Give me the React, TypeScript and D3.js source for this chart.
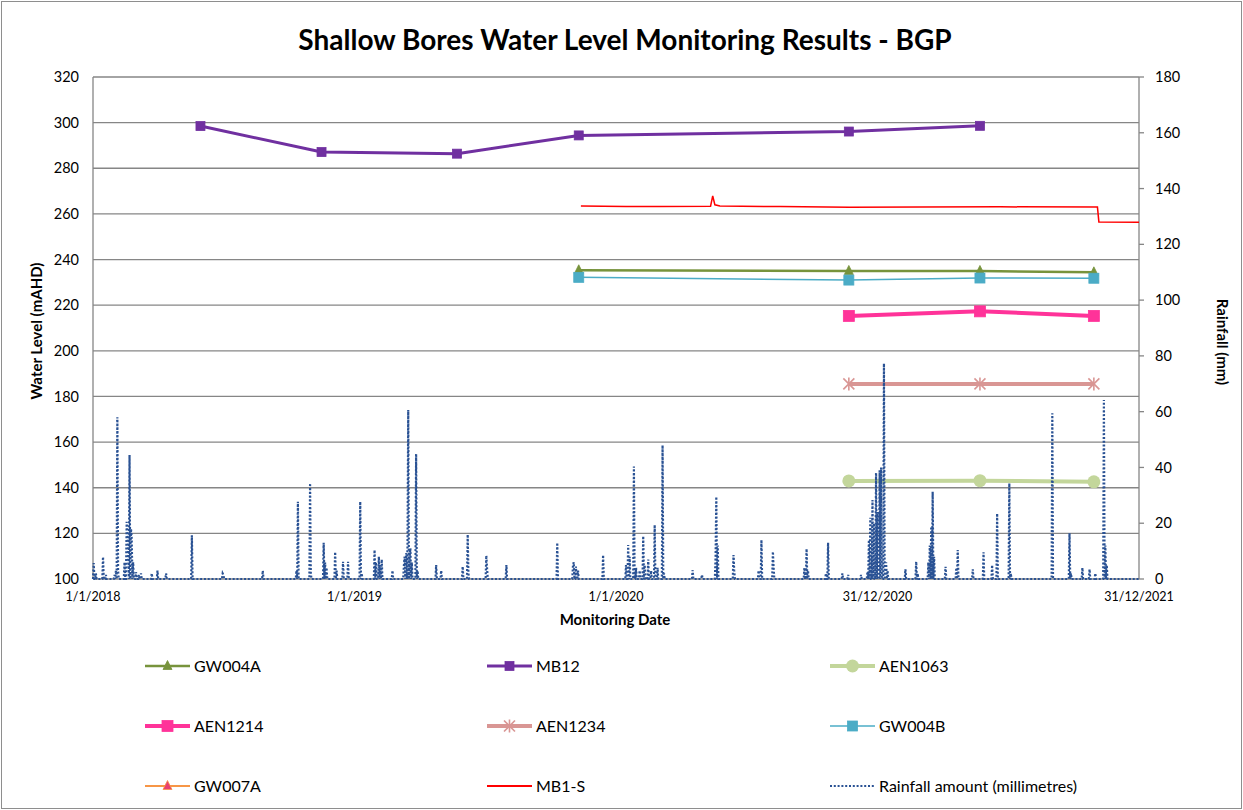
import React from 'react';
import * as d3 from 'd3';

// ---------------- DATA ----------------
const monitoringDates = ['2018-05-31', '2018-11-16', '2019-05-24', '2019-11-10', '2020-11-21', '2021-05-23', '2021-10-29'];
const gw004a: (number | null)[] = [null, null, null, 235.3, 235.0, 235.0, 234.4];
const mb12: (number | null)[] = [298.5, 287.1, 286.4, 294.4, 296.1, 298.6, null];
const aen1063: (number | null)[] = [null, null, null, null, 143.0, 143.1, 142.6];
const aen1214: (number | null)[] = [null, null, null, null, 215.3, 217.3, 215.3];
const aen1234: (number | null)[] = [null, null, null, null, 185.5, 185.5, 185.5];
const gw004b: (number | null)[] = [null, null, null, 232.2, 231.0, 231.9, 231.8];
const gw007a: (number | null)[] = [null, null, null, null, null, null, null];

const mb1sDates = ['2019-11-13', '2020-01-15', '2020-03-01', '2020-05-12', '2020-05-15', '2020-05-18', '2020-05-25', '2020-08-17', '2020-11-22', '2021-02-28', '2021-06-20', '2021-11-03', '2021-11-05', '2021-12-31'];
const mb1sLevels = [263.5, 263.2, 263.3, 263.4, 267.9, 264.0, 263.5, 263.2, 262.9, 263.0, 263.1, 263.0, 256.5, 256.3];

// rainfall events (days not listed recorded 0 mm)
const rainDates = [
  '2018-01-02', '2018-01-05', '2018-01-15', '2018-01-19', '2018-01-31', '2018-02-02', '2018-02-04', '2018-02-05', '2018-02-14', '2018-02-17', '2018-02-18', '2018-02-19', '2018-02-21', '2018-02-23', '2018-02-24', '2018-02-26', '2018-03-02', '2018-03-06', '2018-03-09', '2018-03-24', '2018-04-01', '2018-04-13', '2018-05-19', '2018-07-01', '2018-07-02', '2018-08-26', '2018-10-12', '2018-10-14', '2018-10-31', '2018-11-01', '2018-11-19', '2018-11-21', '2018-11-23', '2018-12-05', '2018-12-07', '2018-12-16', '2018-12-23',
  '2019-01-09', '2019-01-11', '2019-01-29', '2019-01-31', '2019-02-04', '2019-02-06', '2019-02-08', '2019-02-23', '2019-03-11', '2019-03-12', '2019-03-14', '2019-03-16', '2019-03-17', '2019-03-19', '2019-03-20', '2019-03-22', '2019-03-28', '2019-03-30', '2019-04-25', '2019-05-02', '2019-06-01', '2019-06-08', '2019-06-09', '2019-07-04', '2019-07-05', '2019-08-01', '2019-10-11', '2019-11-02', '2019-11-03', '2019-11-06', '2019-11-09', '2019-12-14',
  '2020-01-15', '2020-01-18', '2020-01-20', '2020-01-26', '2020-01-29', '2020-02-03', '2020-02-08', '2020-02-10', '2020-02-15', '2020-02-19', '2020-02-24', '2020-02-28', '2020-03-06', '2020-03-08', '2020-04-17', '2020-04-30', '2020-05-19', '2020-05-20', '2020-05-22', '2020-06-13', '2020-06-14', '2020-07-18', '2020-07-22', '2020-08-07', '2020-08-08', '2020-09-20', '2020-09-23', '2020-09-25', '2020-10-20', '2020-10-23', '2020-11-12', '2020-11-20', '2020-12-08', '2020-12-17', '2020-12-19', '2020-12-21', '2020-12-24', '2020-12-26', '2020-12-29', '2020-12-31',
  '2021-01-03', '2021-01-05', '2021-01-09', '2021-01-12', '2021-01-14', '2021-02-08', '2021-02-23', '2021-02-25', '2021-03-12', '2021-03-14', '2021-03-16', '2021-03-18', '2021-03-20', '2021-04-05', '2021-04-20', '2021-04-22', '2021-05-13', '2021-05-28', '2021-06-09', '2021-06-16', '2021-07-03', '2021-07-05', '2021-09-01', '2021-09-25', '2021-09-27', '2021-10-13', '2021-10-23', '2021-10-31', '2021-11-12', '2021-11-14', '2021-11-16',
];
const rainMm = [
  5.7, 2, 7.9, 1.5, 1.5, 3, 58, 3, 6, 20.5, 16, 12, 44.5, 18, 15, 6, 2.5, 1.5, 2, 2, 3, 2, 15.7, 2, 1.5, 3, 3, 27.7, 34.3, 2, 13, 6, 4, 9.7, 3, 6.2, 6.2,
  27.7, 2, 10.4, 6, 8, 5, 7, 3, 5, 8, 9.3, 12, 60.6, 8, 11, 6, 44.8, 3, 5, 3, 4.5, 16, 2, 8.4, 4, 5, 13, 5, 6, 4.5, 3, 8.6,
  5, 12.2, 8, 40.3, 4, 3, 15.4, 5, 7, 3, 19.4, 4, 48, 2, 3.2, 1.5, 8, 29.5, 12, 8.6, 3, 3, 14, 9.8, 4, 4, 10.8, 3, 2, 13, 2, 1.5, 1.5, 2.5, 14, 22, 28.3, 20, 38, 24,
  39, 40, 77.3, 6, 3, 3.5, 6.2, 2, 6, 12, 18.8, 31.3, 8, 4.4, 4, 10.4, 3.5, 9.6, 5, 23.5, 34.3, 2, 59.4, 16.4, 2, 4, 3.5, 2, 64.2, 12, 5,
];

const leftTicks = [100, 120, 140, 160, 180, 200, 220, 240, 260, 280, 300, 320];
const rightTicks = [0, 20, 40, 60, 80, 100, 120, 140, 160, 180];
const xTickDates = ['2018-01-01', '2019-01-01', '2020-01-01', '2020-12-31', '2021-12-31'];
const xTickLabels = ['1/1/2018', '1/1/2019', '1/1/2020', '31/12/2020', '31/12/2021'];

// ---------------- LAYOUT ----------------
const W = 1243, H = 810;
const PL = 93, PR = 1139, PT = 77, PB = 579;
const FONT = 'Lato, "Open Sans", sans-serif';
const parse = (s: string) => new Date(s + 'T00:00:00Z');

const x = d3.scaleUtc().domain([parse('2018-01-01'), parse('2021-12-31')]).range([PL, PR]);
const yL = d3.scaleLinear().domain([100, 320]).range([PB, PT]);
const yR = d3.scaleLinear().domain([0, 180]).range([PB, PT]);

type Marker = 'triangle' | 'square' | 'circle' | 'star' | 'none';
interface Series { name: string; values: (number | null)[]; color: string; width: number; marker: Marker; size: number; fill?: string; }

const series: Series[] = [
  { name: 'GW004A', values: gw004a, color: '#77933C', width: 2.5, marker: 'triangle', size: 9 },
  { name: 'MB12', values: mb12, color: '#7030A0', width: 3, marker: 'square', size: 9 },
  { name: 'AEN1063', values: aen1063, color: '#C3D69B', width: 4, marker: 'circle', size: 13 },
  { name: 'AEN1214', values: aen1214, color: '#FF3399', width: 4, marker: 'square', size: 11 },
  { name: 'AEN1234', values: aen1234, color: '#D99694', width: 4, marker: 'star', size: 11 },
  { name: 'GW004B', values: gw004b, color: '#4BACC6', width: 1.5, marker: 'square', size: 10 },
  { name: 'GW007A', values: gw007a, color: '#F79646', width: 2, marker: 'triangle', size: 9, fill: '#E8416F' },
];

function MarkerShape({ type, cx, cy, size, color, fill }: { type: Marker; cx: number; cy: number; size: number; color: string; fill?: string }) {
  const h = size / 2;
  if (type === 'square') return <rect x={cx - h} y={cy - h} width={size} height={size} fill={fill || color} stroke={color} strokeWidth={0.8} />;
  if (type === 'circle') return <circle cx={cx} cy={cy} r={h} fill={fill || color} />;
  if (type === 'triangle') return <path d={`M${cx},${cy - h - 1}L${cx + h},${cy + h - 1}L${cx - h},${cy + h - 1}Z`} fill={fill || color} stroke={color} strokeWidth={0.8} />;
  if (type === 'star') return (
    <g stroke={color} strokeWidth={1.6}>
      <line x1={cx - h} y1={cy - h} x2={cx + h} y2={cy + h} />
      <line x1={cx - h} y1={cy + h} x2={cx + h} y2={cy - h} />
      <line x1={cx} y1={cy - h - 1} x2={cx} y2={cy + h + 1} />
    </g>
  );
  return null;
}

const RAIN_COLOR = '#2A5294';
const RAIN_DASH = '2 1.8';

export default function App() {
  // daily rainfall series
  const rainMap = new Map<string, number>();
  rainDates.forEach((d, i) => rainMap.set(d, rainMm[i]));
  const days = d3.utcDay.range(parse('2018-01-01'), d3.utcDay.offset(parse('2021-12-31'), 1));
  const rain = days.map(d => ({ d, v: rainMap.get(d.toISOString().slice(0, 10)) ?? 0 }));
  const rainLine = d3.line<{ d: Date; v: number }>().x(p => x(p.d)).y(p => yR(p.v))(rain) || '';

  const mDates = monitoringDates.map(parse);
  const lineGen = d3.line<{ d: Date; v: number | null }>().defined(p => p.v != null).x(p => x(p.d)).y(p => yL(p.v as number));

  const mb1s = mb1sDates.map((d, i) => ({ d: parse(d), v: mb1sLevels[i] }));
  const mb1sPath = d3.line<{ d: Date; v: number }>().x(p => x(p.d)).y(p => yL(p.v))(mb1s) || '';

  const legendItems: { name: string; render: (x0: number, y0: number) => React.ReactNode }[] = series.slice(0, 6).map(s => ({
    name: s.name,
    render: (x0: number, y0: number) => (
      <g>
        <line x1={x0} x2={x0 + 45} y1={y0} y2={y0} stroke={s.color} strokeWidth={s.width} />
        <MarkerShape type={s.marker} cx={x0 + 22.5} cy={y0} size={s.size} color={s.color} fill={s.fill} />
      </g>
    ),
  }));
  const gw007 = series[6];
  legendItems.push({
    name: 'GW007A', render: (x0, y0) => (
      <g>
        <line x1={x0} x2={x0 + 45} y1={y0} y2={y0} stroke={gw007.color} strokeWidth={2} />
        <MarkerShape type="triangle" cx={x0 + 22.5} cy={y0} size={9} color={gw007.color} fill={gw007.fill} />
      </g>
    ),
  });
  legendItems.push({
    name: 'MB1-S', render: (x0, y0) => <line x1={x0} x2={x0 + 45} y1={y0} y2={y0} stroke="#FF0000" strokeWidth={1.8} />,
  });
  legendItems.push({
    name: 'Rainfall amount (millimetres)', render: (x0, y0) => <line x1={x0} x2={x0 + 45} y1={y0} y2={y0} stroke={RAIN_COLOR} strokeWidth={2} strokeDasharray={RAIN_DASH} />,
  });

  const legendCols = [145, 487, 830];
  const legendRows = [666, 726, 786];

  return (
    <svg width={W} height={H} style={{ position: 'absolute', left: 0, top: 0, background: '#fff' }} fontFamily={FONT}>
      <rect x={0} y={0} width={W} height={H} fill="#fff" />
      <rect x={1.5} y={1.5} width={W - 3} height={H - 3} fill="none" stroke="#8E8E8E" strokeWidth={1} />

      <text x={625} y={50} textAnchor="middle" fontSize={28} fontWeight={700} fill="#000">Shallow Bores Water Level Monitoring Results - BGP</text>

      {/* gridlines */}
      {leftTicks.map(t => (
        <line key={t} x1={PL} x2={PR} y1={yL(t)} y2={yL(t)} stroke="#868686" strokeWidth={1.3} />
      ))}
      <line x1={PL} x2={PL} y1={PT} y2={PB} stroke="#868686" strokeWidth={1.3} />
      <line x1={PR} x2={PR} y1={PT} y2={PB} stroke="#868686" strokeWidth={1.3} />
      {rightTicks.map(t => (
        <line key={t} x1={PR} x2={PR + 5} y1={yR(t)} y2={yR(t)} stroke="#868686" strokeWidth={1.3} />
      ))}

      {/* tick labels */}
      {leftTicks.map(t => (
        <text key={t} x={79} y={yL(t)} dy="0.35em" textAnchor="end" fontSize={14.5} fill="#000">{t}</text>
      ))}
      {rightTicks.map(t => (
        <text key={t} x={1155} y={yR(t)} dy="0.35em" textAnchor="start" fontSize={14.5} fill="#000">{t}</text>
      ))}
      {xTickDates.map((d, i) => (
        <text key={d} x={x(parse(d))} y={601} textAnchor="middle" fontSize={12.5} fill="#000">{xTickLabels[i]}</text>
      ))}

      {/* axis titles */}
      <text x={615} y={625} textAnchor="middle" fontSize={15} fontWeight={700}>Monitoring Date</text>
      <text transform={`translate(42,331) rotate(-90)`} textAnchor="middle" fontSize={15} fontWeight={700}>Water Level (mAHD)</text>
      <text transform={`translate(1217,342) rotate(90)`} textAnchor="middle" fontSize={15} fontWeight={700}>Rainfall (mm)</text>

      {/* water level series */}
      {series.map(s => {
        const pts = mDates.map((d, i) => ({ d, v: s.values[i] }));
        return (
          <g key={s.name}>
            <path d={lineGen(pts) || ''} fill="none" stroke={s.color} strokeWidth={s.width} strokeLinejoin="round" />
            {pts.filter(p => p.v != null).map((p, i) => (
              <MarkerShape key={i} type={s.marker} cx={x(p.d)} cy={yL(p.v as number)} size={s.size} color={s.color} fill={s.fill} />
            ))}
          </g>
        );
      })}
      <path d={mb1sPath} fill="none" stroke="#FF0000" strokeWidth={1.5} />

      {/* rainfall */}
      <path d={rainLine} fill="none" stroke={RAIN_COLOR} strokeWidth={2.2} strokeDasharray={RAIN_DASH} />

      {/* legend */}
      {legendItems.map((it, i) => {
        const cx = legendCols[i % 3];
        const cy = legendRows[Math.floor(i / 3)];
        return (
          <g key={it.name}>
            {it.render(cx, cy)}
            <text x={cx + 49} y={cy} dy="0.35em" fontSize={16} fill="#000">{it.name}</text>
          </g>
        );
      })}
    </svg>
  );
}
